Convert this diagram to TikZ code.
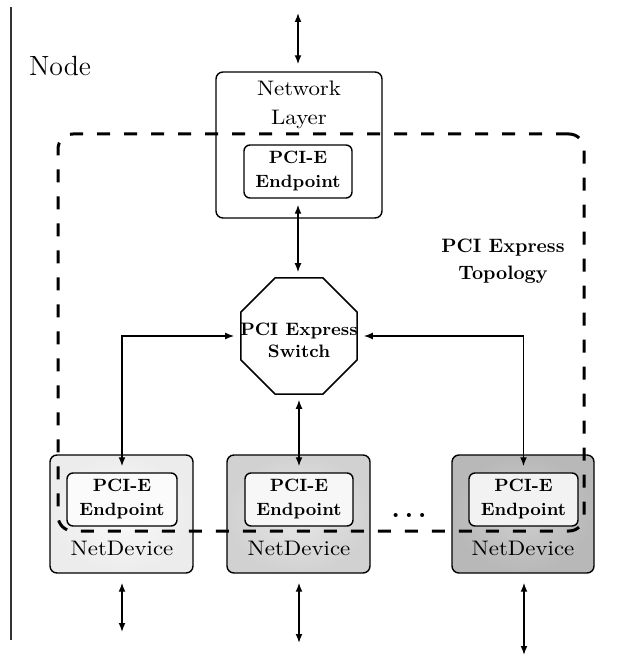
\documentclass[tikz,border=0pt]{standalone}
\usepackage{graphicx}
\usetikzlibrary{shapes.geometric,arrows.meta}
% slightly widened roman text for box labels
\newcommand{\stretchtxt}[1]{\scalebox{1.09}[1]{#1}}
\begin{document}
\begin{tikzpicture}[x=0.5pt,y=-0.5pt,
  outerbox/.style={draw=black, line width=0.7pt, rounded corners=3.5pt, inner sep=0pt},
  epbox/.style={draw=black, line width=0.7pt, rounded corners=3pt, inner sep=0pt,
    minimum height=26.5pt, align=center, font=\fontsize{8.9}{12}\selectfont\bfseries},
  rmlabel/.style={inner sep=0pt, align=center, font=\fontsize{10.5}{14.5}\selectfont},
  bflabel/.style={inner sep=0pt, align=center, font=\fontsize{9}{11}\selectfont\bfseries},
  octobox/.style={draw=black, line width=0.75pt, regular polygon, regular polygon sides=8,
    minimum size=62.8pt, inner sep=0pt},
  topobox/.style={draw=black, line width=1.5pt, dash pattern=on 6.5pt off 7pt,
    rounded corners=7.5pt, inner sep=0pt},
  biarrow/.style={{Latex[length=4.5pt,width=3.4pt]}-{Latex[length=4.5pt,width=3.4pt]}, line width=0.65pt}
]
\useasboundingbox (0,0) rectangle (630,657);

% node boundary line and caption
\draw[line width=0.7pt, black!80] (11,7) -- (11,640);
\node[inner sep=0pt, font=\fontsize{13.9}{16}\selectfont] (nodelbl) at (60,66) {Node};

% network layer with its endpoint
\node[outerbox, fill=white, minimum width=83pt, minimum height=73pt] (net) at (299,145) {};
\node[rmlabel] (netlbl) at (299,105) {\stretchtxt{Network}\\\stretchtxt{Layer}};
\node[epbox, fill=white, minimum width=54pt] (ep0) at (298,171.5) {PCI-E\\Endpoint};

% net devices
\node[outerbox, shade, inner color=gray!4, outer color=gray!15,
  minimum width=71.5pt, minimum height=59pt] (nd1) at (121.5,514) {};
\node[outerbox, shade, inner color=gray!18, outer color=gray!36,
  minimum width=71.5pt, minimum height=59pt] (nd2) at (298.5,514) {};
\node[outerbox, shade, inner color=gray!38, outer color=gray!56,
  minimum width=71pt, minimum height=59pt] (nd3) at (523,514) {};

\node[epbox, fill=gray!3, minimum width=55pt] (ep1) at (122,499.5) {PCI-E\\Endpoint};
\node[epbox, fill=gray!6, minimum width=54pt] (ep2) at (299,499.5) {PCI-E\\Endpoint};
\node[epbox, fill=gray!10, minimum width=54.5pt] (ep3) at (523.5,499.5) {PCI-E\\Endpoint};

\node[rmlabel] (ndl1) at (122,548) {\stretchtxt{NetDevice}};
\node[rmlabel] (ndl2) at (299,548) {\stretchtxt{NetDevice}};
\node[rmlabel] (ndl3) at (523,548) {\stretchtxt{NetDevice}};

\node[inner sep=0pt, font=\fontsize{14}{16}\selectfont\bfseries] (dots) at (409,515)
  {.\kern2.2pt.\kern2.2pt.};

% switch
\node[octobox] (sw) at (299,336) {};
\node[bflabel] (swlbl) at (299,340) {PCI Express\\Switch};

% topology boundary
\node[topobox, minimum width=263pt, minimum height=198.5pt] (topo) at (321,332.5) {};
\node[inner sep=0pt, align=center, font=\fontsize{9.7}{13.5}\selectfont\bfseries] (topolbl)
  at (503,261) {PCI Express\\Topology};

% connectors
\coordinate (top) at (298,13);
\draw[biarrow, shorten >=3.5pt] (top) -- (top |- net.north);
\draw[biarrow, shorten <=3pt, shorten >=2.5pt] (ep0.south) -- (ep0.south |- sw.north);
\draw[biarrow, shorten <=3pt, shorten >=3pt] (ep1.north) |- (sw.west);
\draw[biarrow, shorten <=3pt, shorten >=3pt] (ep3.north) |- (sw.east);
\draw[biarrow, shorten <=2.5pt, shorten >=3pt] (sw.south) -- (ep2.north);

\coordinate (b1) at (122,632);
\coordinate (b2) at (299,643);
\coordinate (b3) at (524,655);
\draw[biarrow, shorten <=4.5pt] (b1 |- nd1.south) -- (b1);
\draw[biarrow, shorten <=4.5pt] (b2 |- nd2.south) -- (b2);
\draw[biarrow, shorten <=4.5pt] (b3 |- nd3.south) -- (b3);
\end{tikzpicture}
\end{document}
